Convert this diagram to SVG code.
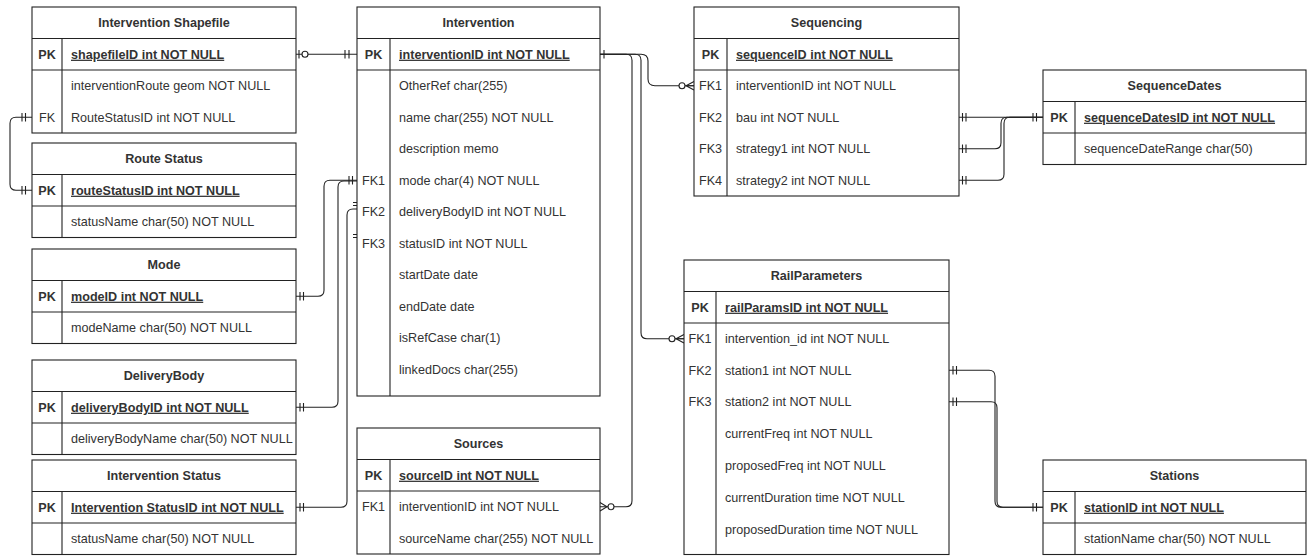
<svg xmlns="http://www.w3.org/2000/svg" width="1311" height="556" viewBox="0 0 1311 556">
<style>
  .box{fill:#fff;stroke:#222;stroke-width:1.1}
  .ln{stroke:#222;stroke-width:1.1;fill:none}
  text{font-family:"Liberation Sans",Arial,sans-serif;font-size:12.6px;fill:#333}
  .t{font-weight:bold;text-anchor:middle}
  .k{text-anchor:middle}
  .kb{text-anchor:middle;font-weight:bold}
  .pk{font-weight:bold;text-decoration:underline}
  .c{stroke:#222;stroke-width:1.1;fill:none}
  .o{stroke:#222;stroke-width:1.1;fill:#fff}
</style>
<rect width="1311" height="556" fill="#fff"/>

<g id="connectors">
  <!-- Shapefile PK -> Intervention PK -->
  <path class="c" d="M296 54.25 H357"/>
  <path class="c" d="M299 50 V58.5 M345 50 V58.5 M349 50 V58.5"/>
  <circle class="o" cx="305" cy="54.25" r="3"/>
  <!-- Shapefile FK -> Route Status PK -->
  <path class="c" d="M32 117.25 H16 Q10 117.25 10 123.25 V184.25 Q10 190.25 16 190.25 H32"/>
  <path class="c" d="M22 113 V121.5 M25.5 113 V121.5 M22 186 V194.5 M25.5 186 V194.5"/>
  <!-- Mode PK -> Intervention FK1 -->
  <path class="c" d="M296 296.25 H318 Q324 296.25 324 290.25 V186.25 Q324 180.25 330 180.25 H357"/>
  <path class="c" d="M300 292 V300.5 M303.5 292 V300.5 M349 176 V184.5 M352.5 176 V184.5"/>
  <!-- DeliveryBody PK -> Intervention -->
  <path class="c" d="M296 407.25 H332 Q338 407.25 338 401.25 V187 Q338 181 344 181 H357"/>
  <path class="c" d="M300 403 V411.5 M303.5 403 V411.5 M353 234.5 H361 M353 237.5 H361"/>
  <!-- Intervention Status PK -> Intervention -->
  <path class="c" d="M296 507.25 H341 Q347 507.25 347 501.25 V215 Q347 209 353 209 H357"/>
  <path class="c" d="M300 503 V511.5 M303.5 503 V511.5 M353 202.5 H361 M353 205.5 H361"/>
  <!-- Intervention PK -> Sequencing FK1 -->
  <path class="c" d="M600 54.25 H641 Q648 54.25 648 61 V79 Q648 85.75 655 85.75 H694"/>
  <path class="c" d="M604 50 V58.5"/>
  <circle class="o" cx="682" cy="85.75" r="3"/>
  <path class="c" d="M694 81.5 L686 85.75 L694 90 M686 85.75 H694"/>
  <!-- Intervention PK -> RailParameters FK1 -->
  <path class="c" d="M600 54.25 H635 Q641 54.25 641 60.25 V332.75 Q641 338.75 647 338.75 H684"/>
  <circle class="o" cx="672" cy="338.75" r="3"/>
  <path class="c" d="M684 334.5 L676 338.75 L684 343 M676 338.75 H684"/>
  <!-- Intervention PK -> Sources FK1 -->
  <path class="c" d="M600 54.25 H626 Q632 54.25 632 60.25 V500.75 Q632 506.75 626 506.75 H600"/>
  <circle class="o" cx="611" cy="506.75" r="3"/>
  <path class="c" d="M600 502.5 L607 506.75 L600 511"/>
  <!-- Sequencing FK2/3/4 -> SequenceDates PK -->
  <path class="c" d="M959 117.25 H1043"/>
  <path class="c" d="M959 148.75 H995 Q1001 148.75 1001 142.75 V123.25 Q1001 117.25 1007 117.25 H1043"/>
  <path class="c" d="M959 180.25 H998 Q1004 180.25 1004 174.25 V123.25 Q1004 117.25 1010 117.25 H1043"/>
  <path class="c" d="M962.5 113 V121.5 M966 113 V121.5 M962.5 144.5 V153 M966 144.5 V153 M962.5 176 V184.5 M966 176 V184.5 M1033 113 V121.5 M1036.5 113 V121.5"/>
  <!-- RailParameters FK2/FK3 -> Stations PK -->
  <path class="c" d="M949 370.25 H989 Q995 370.25 995 376.25 V501.25 Q995 507.25 1001 507.25 H1043"/>
  <path class="c" d="M949 401.75 H991 Q997 401.75 997 407.75 V501.25 Q997 507.25 1003 507.25 H1043"/>
  <path class="c" d="M953 366 V374.5 M956.5 366 V374.5 M953 397.5 V406 M956.5 397.5 V406 M1033 503 V511.5 M1036.5 503 V511.5"/>
</g>

<g id="InterventionShapefile">
  <rect class="box" x="32" y="7" width="264" height="126"/>
  <path class="ln" d="M32 38.5 H296 M32 70 H296 M62 38.5 V133"/>
  <text class="t" x="164" y="27.2">Intervention Shapefile</text>
  <text class="kb" x="47" y="58.7">PK</text>
  <text class="pk" x="71" y="58.7">shapefileID int NOT NULL</text>
  <text x="71" y="90.2">interventionRoute geom NOT NULL</text>
  <text class="k" x="47" y="121.7">FK</text>
  <text x="71" y="121.7">RouteStatusID int NOT NULL</text>
</g>

<g id="RouteStatus">
  <rect class="box" x="32" y="143" width="264" height="94.5"/>
  <path class="ln" d="M32 174.5 H296 M32 206 H296 M62 174.5 V237.5"/>
  <text class="t" x="164" y="163.2">Route Status</text>
  <text class="kb" x="47" y="194.7">PK</text>
  <text class="pk" x="71" y="194.7">routeStatusID int NOT NULL</text>
  <text x="71" y="226.2">statusName char(50) NOT NULL</text>
</g>

<g id="Mode">
  <rect class="box" x="32" y="249" width="264" height="94.5"/>
  <path class="ln" d="M32 280.5 H296 M32 312 H296 M62 280.5 V343.5"/>
  <text class="t" x="164" y="269.2">Mode</text>
  <text class="kb" x="47" y="300.7">PK</text>
  <text class="pk" x="71" y="300.7">modeID int NOT NULL</text>
  <text x="71" y="332.2">modeName char(50) NOT NULL</text>
</g>

<g id="DeliveryBody">
  <rect class="box" x="32" y="360" width="264" height="94.5"/>
  <path class="ln" d="M32 391.5 H296 M32 423 H296 M62 391.5 V454.5"/>
  <text class="t" x="164" y="380.2">DeliveryBody</text>
  <text class="kb" x="47" y="411.7">PK</text>
  <text class="pk" x="71" y="411.7">deliveryBodyID int NOT NULL</text>
  <text x="71" y="443.2">deliveryBodyName char(50) NOT NULL</text>
</g>

<g id="InterventionStatus">
  <rect class="box" x="32" y="460" width="264" height="94.5"/>
  <path class="ln" d="M32 491.5 H296 M32 523 H296 M62 491.5 V554.5"/>
  <text class="t" x="164" y="480.2">Intervention Status</text>
  <text class="kb" x="47" y="511.7">PK</text>
  <text class="pk" x="71" y="511.7">Intervention StatusID int NOT NULL</text>
  <text x="71" y="543.2">statusName char(50) NOT NULL</text>
</g>

<g id="Intervention">
  <rect class="box" x="357" y="7" width="243" height="389"/>
  <path class="ln" d="M357 38.5 H600 M357 70 H600 M390 38.5 V396"/>
  <text class="t" x="478.5" y="27.2">Intervention</text>
  <text class="kb" x="373.5" y="58.7">PK</text>
  <text class="pk" x="399" y="58.7">interventionID int NOT NULL</text>
  <text x="399" y="90.2">OtherRef char(255)</text>
  <text x="399" y="121.7">name char(255) NOT NULL</text>
  <text x="399" y="153.2">description memo</text>
  <text class="k" x="373.5" y="184.7">FK1</text>
  <text x="399" y="184.7">mode char(4) NOT NULL</text>
  <text class="k" x="373.5" y="216.2">FK2</text>
  <text x="399" y="216.2">deliveryBodyID int NOT NULL</text>
  <text class="k" x="373.5" y="247.7">FK3</text>
  <text x="399" y="247.7">statusID int NOT NULL</text>
  <text x="399" y="279.2">startDate date</text>
  <text x="399" y="310.7">endDate date</text>
  <text x="399" y="342.2">isRefCase char(1)</text>
  <text x="399" y="373.7">linkedDocs char(255)</text>
</g>

<g id="Sources">
  <rect class="box" x="357" y="428" width="243" height="126"/>
  <path class="ln" d="M357 459.5 H600 M357 491 H600 M390 459.5 V554"/>
  <text class="t" x="478.5" y="448.2">Sources</text>
  <text class="kb" x="373.5" y="479.7">PK</text>
  <text class="pk" x="399" y="479.7">sourceID int NOT NULL</text>
  <text class="k" x="373.5" y="511.2">FK1</text>
  <text x="399" y="511.2">interventionID int NOT NULL</text>
  <text x="399" y="542.7">sourceName char(255) NOT NULL</text>
</g>

<g id="Sequencing">
  <rect class="box" x="694" y="7" width="265" height="189"/>
  <path class="ln" d="M694 38.5 H959 M694 70 H959 M727 38.5 V196"/>
  <text class="t" x="826.5" y="27.2">Sequencing</text>
  <text class="kb" x="710.5" y="58.7">PK</text>
  <text class="pk" x="736" y="58.7">sequenceID int NOT NULL</text>
  <text class="k" x="710.5" y="90.2">FK1</text>
  <text x="736" y="90.2">interventionID int NOT NULL</text>
  <text class="k" x="710.5" y="121.7">FK2</text>
  <text x="736" y="121.7">bau int NOT NULL</text>
  <text class="k" x="710.5" y="153.2">FK3</text>
  <text x="736" y="153.2">strategy1 int NOT NULL</text>
  <text class="k" x="710.5" y="184.7">FK4</text>
  <text x="736" y="184.7">strategy2 int NOT NULL</text>
</g>

<g id="SequenceDates">
  <rect class="box" x="1043" y="70" width="263" height="94.5"/>
  <path class="ln" d="M1043 101.5 H1306 M1043 133 H1306 M1075 101.5 V164.5"/>
  <text class="t" x="1174.5" y="90.2">SequenceDates</text>
  <text class="kb" x="1059" y="121.7">PK</text>
  <text class="pk" x="1084" y="121.7">sequenceDatesID int NOT NULL</text>
  <text x="1084" y="153.2">sequenceDateRange char(50)</text>
</g>

<g id="RailParameters">
  <rect class="box" x="684" y="260" width="265" height="294.5"/>
  <path class="ln" d="M684 291.5 H949 M684 323 H949 M716 291.5 V554.5"/>
  <text class="t" x="816.5" y="280.2">RailParameters</text>
  <text class="kb" x="700" y="311.7">PK</text>
  <text class="pk" x="725" y="311.7">railParamsID int NOT NULL</text>
  <text class="k" x="700" y="343.2">FK1</text>
  <text x="725" y="343.2">intervention_id int NOT NULL</text>
  <text class="k" x="700" y="374.7">FK2</text>
  <text x="725" y="374.7">station1 int NOT NULL</text>
  <text class="k" x="700" y="406.2">FK3</text>
  <text x="725" y="406.2">station2 int NOT NULL</text>
  <text x="725" y="438">currentFreq int NOT NULL</text>
  <text x="725" y="470">proposedFreq int NOT NULL</text>
  <text x="725" y="502">currentDuration time NOT NULL</text>
  <text x="725" y="534">proposedDuration time NOT NULL</text>
</g>

<g id="Stations">
  <rect class="box" x="1043" y="460" width="263" height="94.5"/>
  <path class="ln" d="M1043 491.5 H1306 M1043 523 H1306 M1075 491.5 V554.5"/>
  <text class="t" x="1174.5" y="480.2">Stations</text>
  <text class="kb" x="1059" y="511.7">PK</text>
  <text class="pk" x="1084" y="511.7">stationID int NOT NULL</text>
  <text x="1084" y="543.2">stationName char(50) NOT NULL</text>
</g>
</svg>
